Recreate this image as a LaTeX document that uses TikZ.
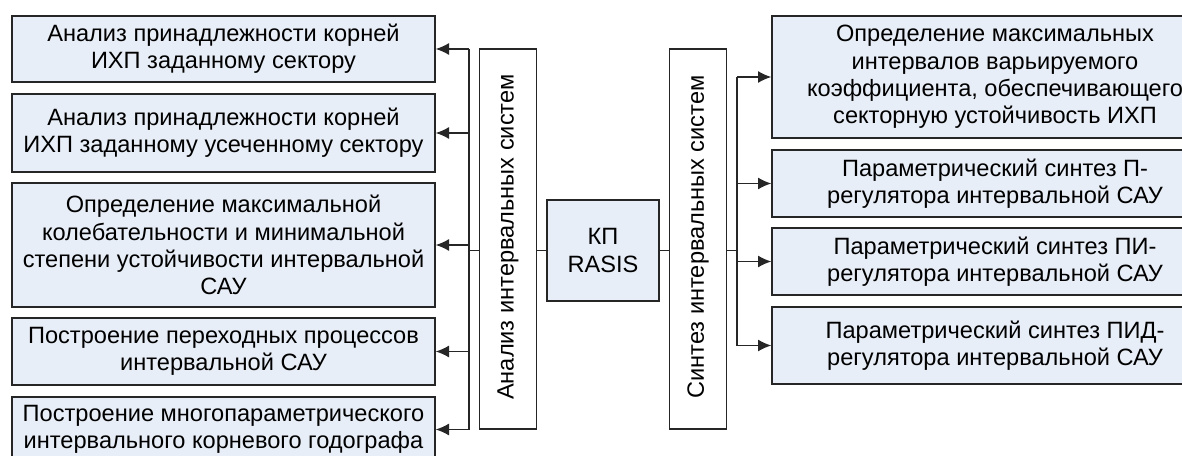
\documentclass[tikz,border=0pt]{standalone}
\usepackage{fontspec}
\setmainfont{Liberation Sans}
\usetikzlibrary{arrows.meta}
\definecolor{boxfill}{RGB}{232,238,247}
\definecolor{linegray}{RGB}{38,38,38}

\begin{document}
\begin{tikzpicture}[x=0.75pt,y=0.75pt,yscale=-1,xscale=1,
  every node/.style={font=\fontsize{17.7}{20.4}\selectfont},
  blok/.style={draw=linegray,fill=boxfill,line width=1pt,inner sep=0pt,align=center},
  stolb/.style={draw=linegray,fill=white,line width=1pt,inner sep=0pt,minimum width=42.75pt,minimum height=285pt},
  svyaz/.style={draw=linegray,line width=1pt},
  strelka/.style={svyaz,-{Latex[length=10pt,width=9pt]}}]
\useasboundingbox (0,0) rectangle (1182,456);

% Left column: analysis tasks
\node [blok,minimum width=317.25pt,minimum height=49.5pt] (a1) at (223.5,49) {Анализ принадлежности корней\\ИХП заданному сектору};
\node [blok,minimum width=317.25pt,minimum height=58.5pt] (a2) at (223.5,133) {Анализ принадлежности корней\\ИХП заданному усеченному сектору};
\node [blok,minimum width=317.25pt,minimum height=93pt] (a3) at (223.5,245) {Определение максимальной\\колебательности и минимальной\\степени устойчивости интервальной\\САУ};
\node [blok,minimum width=317.25pt,minimum height=50.25pt] (a4) at (223.5,351.5) {Построение переходных процессов\\интервальной САУ};
\node [blok,minimum width=317.25pt,minimum height=48.75pt] (a5) at (223.5,429.5) {Построение многопараметрического\\интервального корневого годографа};

% Middle: columns and the package
\node [stolb] (an) at (508,239) {};
\node [rotate=90] (antxt) at (508,237) {Анализ интервальных систем};
\node [blok,minimum width=84pt,minimum height=75.75pt] (kp) at (603,250.5) {КП\\RASIS};
\node [stolb] (sy) at (698,239) {};
\node [rotate=90] (sytxt) at (698,237) {Синтез интервальных систем};

% Right column: synthesis tasks
\node [blok,minimum width=334.5pt,minimum height=91.5pt] (b1) at (995,77) {Определение максимальных\\интервалов варьируемого\\коэффициента, обеспечивающего\\секторную устойчивость ИХП};
\node [blok,minimum width=334.5pt,minimum height=50.25pt] (b2) at (995,183.5) {Параметрический синтез П-\\регулятора интервальной САУ};
\node [blok,minimum width=334.5pt,minimum height=50.25pt] (b3) at (995,261.5) {Параметрический синтез ПИ-\\регулятора интервальной САУ};
\node [blok,minimum width=334.5pt,minimum height=57.75pt] (b4) at (995,345.5) {Параметрический синтез ПИД-\\регулятора интервальной САУ};

% Buses
\coordinate (lbus) at (469,49);
\coordinate (rbus) at (737,77);
\draw [svyaz] (a1.east -| lbus) -- (a5.east -| lbus);
\draw [svyaz] (b1.west -| rbus) -- (b4.west -| rbus);
\foreach \k in {a1,a2,a3,a4,a5}
  \draw [strelka] (\k.east -| lbus) -- (\k.east);
\foreach \k in {b1,b2,b3,b4}
  \draw [strelka] (\k.west -| rbus) -- (\k.west);

% Links to the package
\draw [svyaz] (kp.west -| lbus) -- (kp.west -| an.west);
\draw [svyaz] (kp.west -| an.east) -- (kp.west);
\draw [svyaz] (kp.east) -- (kp.east -| sy.west);
\draw [svyaz] (kp.east -| sy.east) -- (kp.east -| rbus);

\end{tikzpicture}
\end{document}
